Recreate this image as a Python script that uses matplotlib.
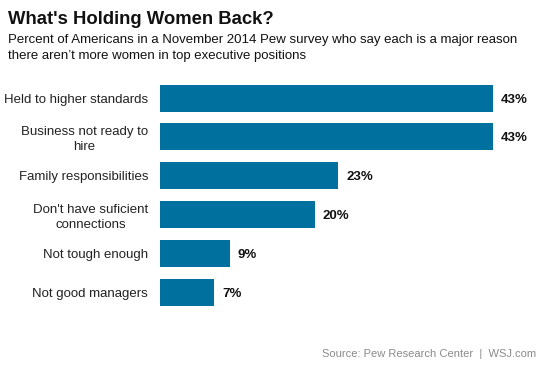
import matplotlib.pyplot as plt

plt.rcParams['font.family'] = ['Liberation Sans', 'DejaVu Sans']

# data
reasons = ['Held to higher standards', 'Business not ready to\nhire',
           'Family responsibilities', "Don't have suficient\nconnections",
           'Not tough enough', 'Not good managers']
percent = [43, 43, 23, 20, 9, 7]

W, H = 553, 369
fig = plt.figure(figsize=(W / 100, H / 100), dpi=100)

# axes placed in pixel terms: bars start at x=160, 7.74 px per percent
px_per = 7.74
left, right = 160, 547
top, bottom = 78.6, 312
ax = fig.add_axes([left / W, 1 - bottom / H, (right - left) / W, (bottom - top) / H])
ax.set_xlim(0, (right - left) / px_per)
ax.set_ylim(len(reasons) - 0.5, -0.5)

ypos = range(len(reasons))
ax.barh(ypos, percent, height=0.694, color='#00719f')

for y, v in zip(ypos, percent):
    ax.text(v + 8 / px_per, y, '%d%%' % v, va='center_baseline', ha='left',
            fontsize=9.5, fontweight='bold', color='#111111')

ax.set_yticks(list(ypos))
ax.set_yticklabels(reasons, fontsize=9.5, color='#222222', ha='right',
                   multialignment='center', linespacing=1.25)
ax.tick_params(axis='y', length=0, pad=8.5)
ax.set_xticks([])
for s in ax.spines.values():
    s.set_visible(False)

fig.text(8 / W, 1 - 19 / H, "What's Holding Women Back?", fontsize=13.3,
         fontweight='bold', va='center', ha='left', color='#111111')
fig.text(8 / W, 1 - 40 / H, 'Percent of Americans in a November 2014 Pew survey who say each is a major reason',
         fontsize=9.5, va='center', ha='left', color='#111111')
fig.text(8 / W, 1 - 55.5 / H, 'there aren\u2019t more women in top executive positions',
         fontsize=9.5, va='center', ha='left', color='#111111')
fig.text(536 / W, 1 - 354 / H, 'Source: Pew Research Center  |  WSJ.com',
         fontsize=8.0, va='center', ha='right', color='#8a8a8a')

fig.savefig('out.png', dpi=100)
